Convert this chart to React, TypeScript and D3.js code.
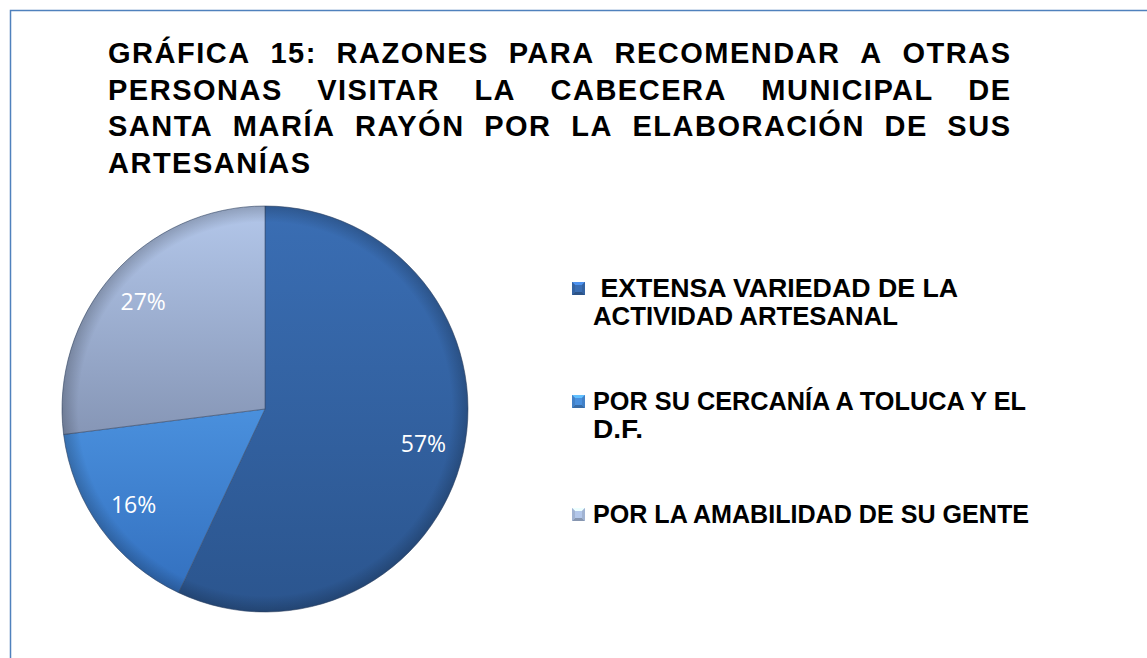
import React, { useMemo } from "react";
import * as d3 from "d3";

// ─── Data ────────────────────────────────────────────────────────────────
const titleLines = [
  "GRÁFICA 15: RAZONES PARA RECOMENDAR A OTRAS",
  "PERSONAS VISITAR LA CABECERA MUNICIPAL DE",
  "SANTA MARÍA RAYÓN POR LA ELABORACIÓN DE SUS",
  "ARTESANÍAS",
];
const categories = [
  "EXTENSA VARIEDAD DE LA ACTIVIDAD ARTESANAL",
  "POR SU CERCANÍA A TOLUCA Y EL D.F.",
  "POR LA AMABILIDAD DE SU GENTE",
];
const legendLines = [
  [" EXTENSA VARIEDAD DE LA", "ACTIVIDAD ARTESANAL"],
  ["POR SU CERCANÍA A TOLUCA Y EL", "D.F."],
  ["POR LA AMABILIDAD DE SU GENTE"],
];
const values = [57, 16, 27];
const sliceTop = ["#3a6eb4", "#4a90dd", "#b3c7ea"];
const sliceBottom = ["#2b558e", "#3370bf", "#8696b6"];

// rendered widths of the legend lines (the original text is squeezed unevenly)
const legendWidths = [[365, 305], [433, 50], [436]];

const W = 1147;
const H = 658;

const TITLE_FONT = "bold 29px 'Liberation Sans', Arial, sans-serif";
const TITLE_SPACING = 1.5;

function measure(word: string, font: string, spacing: number) {
  const ctx = document.createElement("canvas").getContext("2d")!;
  ctx.font = font;
  return ctx.measureText(word).width + spacing * (word.length - 1);
}

export default function App() {
  const cx = 265;
  const cy = 409;
  const r = 203;

  const arcs = useMemo(
    () => d3.pie<number>().sort(null).value((d) => d)(values),
    []
  );
  const arc = d3.arc<d3.PieArcDatum<number>>().innerRadius(0).outerRadius(r);
  const labelArc = d3
    .arc<d3.PieArcDatum<number>>()
    .innerRadius(r * 0.8)
    .outerRadius(r * 0.8);

  // ─── Justified title: place words one by one ───────────────────────────
  const titleLeft = 108;
  const titleRight = 1010;
  const titleY = d3.scaleLinear().domain([0, 3]).range([63, 173]);
  const titleWords = titleLines.flatMap((line, li) => {
    const words = line.split(" ");
    const widths = words.map((w) => measure(w, TITLE_FONT, TITLE_SPACING));
    const last = li === titleLines.length - 1;
    const gap = last || words.length < 2
      ? measure(" ", TITLE_FONT, 0) + TITLE_SPACING
      : (titleRight - titleLeft - d3.sum(widths)) / (words.length - 1);
    let x = titleLeft;
    return words.map((w, i) => {
      const item = { text: w, x, y: titleY(li), key: `${li}-${i}` };
      x += widths[i] + gap;
      return item;
    });
  });

  const legendX = 593;
  const legendY = d3.scaleLinear().domain([0, 1]).range([297, 410]);
  const lineGap = 28;

  return (
    <svg
      width={W}
      height={H}
      style={{ position: "absolute", left: 0, top: 0, background: "#fff" }}
    >
      <defs>
        {values.map((_, i) => (
          <linearGradient key={i} id={`slice-${i}`} x1="0" y1="0" x2="0" y2="1">
            <stop offset="0%" stopColor={sliceTop[i]} />
            <stop offset="100%" stopColor={sliceBottom[i]} />
          </linearGradient>
        ))}
        <radialGradient id="rim" cx="50%" cy="50%" r="50%">
          <stop offset="92%" stopColor="#000" stopOpacity={0} />
          <stop offset="100%" stopColor="#000" stopOpacity={0.2} />
        </radialGradient>
      </defs>

      <rect x={10.5} y={10.5} width={1160} height={680} fill="none" stroke="#4f81bd" strokeWidth={1.5} />

      <g fill="#000" style={{ font: TITLE_FONT, letterSpacing: `${TITLE_SPACING}px` }}>
        {titleWords.map((w) => (
          <text key={w.key} x={w.x} y={w.y}>{w.text}</text>
        ))}
      </g>

      <g transform={`translate(${cx},${cy})`}>
        {arcs.map((a, i) => (
          <path
            key={categories[i]}
            d={arc(a) || ""}
            fill={`url(#slice-${i})`}
            stroke="#3a4e6e"
            strokeOpacity={0.6}
            strokeWidth={1}
          />
        ))}
        <circle r={r} fill="url(#rim)" />
        {arcs.map((a, i) => {
          const [lx, ly] = labelArc.centroid(a);
          return (
            <text
              key={`l-${i}`}
              x={lx}
              y={ly}
              dy="0.35em"
              textAnchor="middle"
              fill="#fff"
              style={{ font: "23px 'Open Sans', 'Noto Sans', sans-serif" }}
            >
              {`${values[i]}%`}
            </text>
          );
        })}
      </g>

      <g style={{ font: "bold 26px 'Liberation Sans', Arial, sans-serif" }} fill="#000">
        {legendLines.map((lines, i) => {
          const y0 = legendY(i);
          const s = 13;
          const mx = 572;
          const my = y0 - 15;
          const c = d3.color(sliceTop[i])!;
          return (
            <g key={categories[i]}>
              <rect x={mx} y={my} width={s} height={s} fill={sliceTop[i]} />
              <polygon points={`${mx},${my} ${mx + s},${my} ${mx + s - 3},${my + 3} ${mx + 3},${my + 3}`} fill={c.brighter(0.8).toString()} />
              <polygon points={`${mx},${my + s} ${mx + s},${my + s} ${mx + s - 3},${my + s - 3} ${mx + 3},${my + s - 3}`} fill={c.darker(0.8).toString()} />
              <polygon points={`${mx},${my} ${mx + 3},${my + 3} ${mx + 3},${my + s - 3} ${mx},${my + s}`} fill={c.darker(0.3).toString()} />
              <polygon points={`${mx + s},${my} ${mx + s - 3},${my + 3} ${mx + s - 3},${my + s - 3} ${mx + s},${my + s}`} fill={c.darker(0.3).toString()} />
              {lines.map((t, j) => (
                <text
                  key={j}
                  x={legendX}
                  y={y0 + j * lineGap}
                  textLength={legendWidths[i][j]}
                  lengthAdjust="spacingAndGlyphs"
                  style={{ whiteSpace: "pre" }}
                >
                  {t}
                </text>
              ))}
            </g>
          );
        })}
      </g>
    </svg>
  );
}
